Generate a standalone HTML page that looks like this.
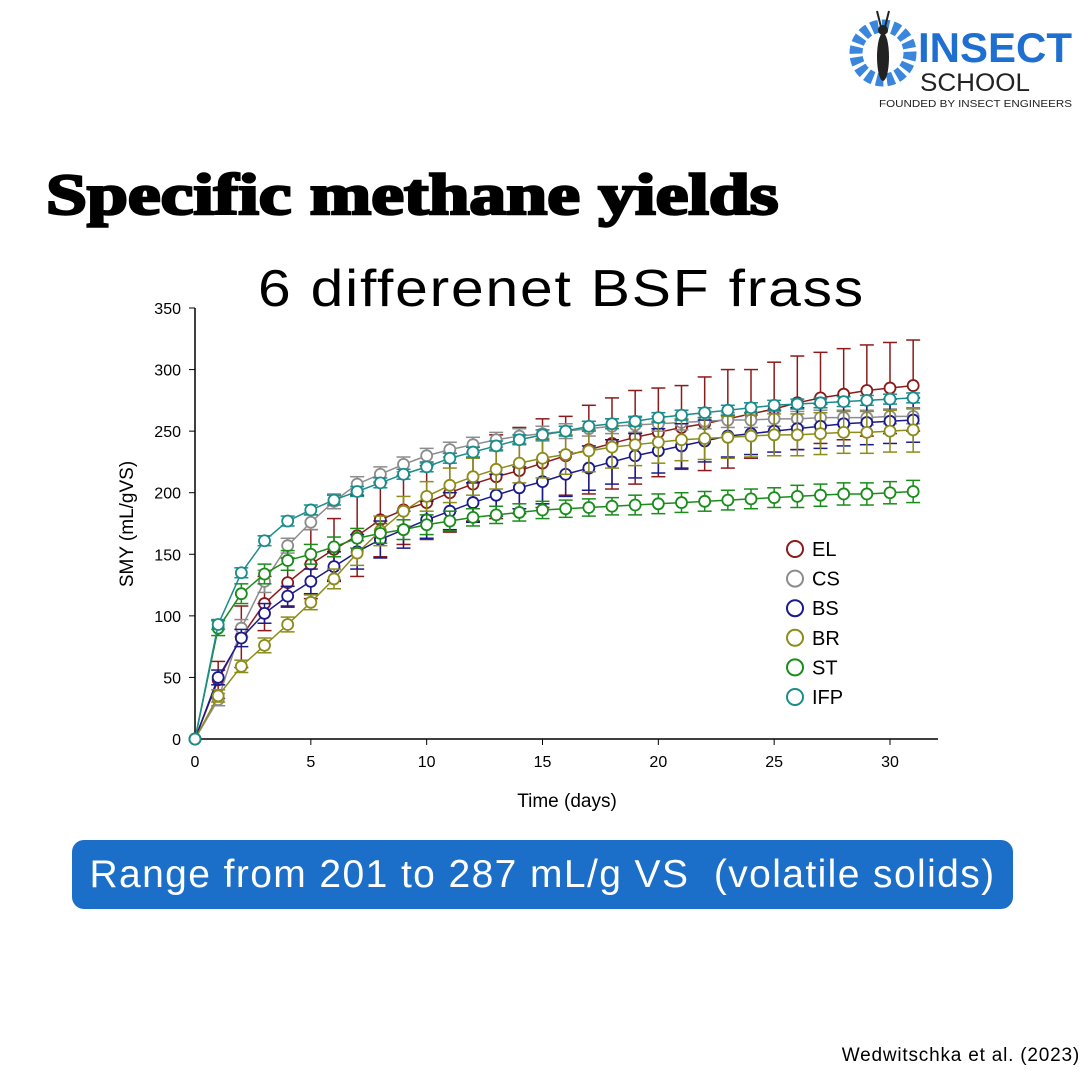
<!DOCTYPE html>
<html><head><meta charset="utf-8"><style>
body{margin:0;width:1085px;height:1080px;background:#fff;position:relative;overflow:hidden;font-family:"Liberation Sans",sans-serif}
.abs{position:absolute;margin:0}
</style></head><body>
<div class="abs" style="left:845px;top:5px;width:240px;height:110px">
<svg width="240" height="110">
<circle cx="38" cy="48" r="27" fill="none" stroke="#3a86dc" stroke-width="13" stroke-dasharray="7 3.5"/>
<ellipse cx="38" cy="52" rx="6" ry="24" fill="#222"/>
<circle cx="38" cy="25" r="5" fill="#222"/>
<line x1="36" y1="22" x2="32" y2="6" stroke="#222" stroke-width="2"/><line x1="40" y1="22" x2="44" y2="6" stroke="#222" stroke-width="2"/>
<text x="73" y="57" font-family="Liberation Sans" font-weight="bold" font-size="42" fill="#1f6fd0" textLength="154" lengthAdjust="spacingAndGlyphs">INSECT</text>
<text x="75" y="86" font-family="Liberation Sans" font-size="25" fill="#222" textLength="110" lengthAdjust="spacingAndGlyphs">SCHOOL</text>
<text x="34" y="102" font-family="Liberation Sans" font-size="10.5" fill="#222" textLength="193" lengthAdjust="spacingAndGlyphs">FOUNDED BY INSECT ENGINEERS</text>
</svg></div>
<h1 class="abs" style="left:46px;top:160px;font-family:'Liberation Serif',serif;font-weight:900;font-size:58px;-webkit-text-stroke:2.5px #000;line-height:70px;transform:scaleX(1.27);transform-origin:left top;white-space:nowrap">Specific methane yields</h1>
<div class="abs" style="left:258px;top:258px;font-size:52px;line-height:62px;letter-spacing:1.6px;transform:scaleX(1.13);transform-origin:left top;white-space:nowrap">6 differenet BSF frass</div>
<svg class="abs" style="left:0;top:290px" width="1085" height="540" id="chart"></svg>
<div class="abs" style="left:72px;top:840px;width:941px;height:69px;background:#1b6fc8;border-radius:12px;color:#fff;font-size:39px;line-height:69px;text-align:center;letter-spacing:1.4px;white-space:nowrap">Range from 201 to 287 mL/g VS&nbsp; (volatile solids)</div>
<div class="abs" style="right:5px;top:1045px;font-size:19px;letter-spacing:0.8px">Wedwitschka et al. (2023)</div>
<script>
const days=[0,1,2,3,4,5,6,7,8,9,10,11,12,13,14,15,16,17,18,19,20,21,22,23,24,25,26,27,28,29,30,31];
const seriesNames=["EL","CS","BS","BR","ST","IFP"];
const colors=["#8b1a1a","#8c8c8c","#1a1a8c","#8c8c1a","#1a8c1a","#1a8c8c"];
const EL=[0,48,83,110,127,142,154,165,178,186,192,200,207,213,218,224,230,235,240,245,249,253,256,260,264,268,273,277,280,283,285,287];
const CS=[0,32,90,128,157,176,193,207,215,223,230,235,239,243,246,248,250,252,254,255,256,257,258,259,259,260,260,261,261,261,262,262];
const BS=[0,50,82,102,116,128,140,152,162,170,178,185,192,198,204,209,215,220,225,230,234,238,242,246,248,250,252,254,256,257,258,259];
const BR=[0,35,59,76,93,111,130,151,169,185,197,206,213,219,224,228,231,234,237,239,241,243,244,245,246,247,247,248,249,249,250,251];
const ST=[0,90,118,134,145,150,156,163,167,170,174,177,180,182,184,186,187,188,189,190,191,192,193,194,195,196,197,198,199,199,200,201];
const IFP=[0,93,135,161,177,186,194,201,208,215,221,228,233,238,243,247,250,254,256,258,261,263,265,267,269,271,272,273,274,275,276,277];
const errEL=[0,15,25,22,20,28,25,33,30,28,30,32,30,34,35,36,32,36,37,38,36,34,38,40,36,38,38,37,37,37,37,37];
const errCS=[0,5,7,9,6,6,6,6,6,6,6,6,6,6,6,6,6,6,6,6,6,6,6,6,6,6,6,6,6,6,6,6];
const errBS=[0,6,7,8,8,10,12,14,15,15,15,15,16,17,17,18,18,18,18,18,18,18,17,17,17,17,17,18,18,18,18,18];
const errBR=[0,5,5,6,6,6,8,10,12,12,12,14,15,16,16,16,16,17,17,17,17,17,17,17,17,17,17,17,17,17,17,18];
const errST=[0,6,8,8,8,8,8,8,8,8,8,8,7,7,7,7,7,7,7,8,8,8,8,8,8,8,9,9,9,9,9,9];
const errIFP=[0,4,4,4,4,4,4,4,4,4,4,4,4,4,4,4,4,4,4,4,4,4,4,4,4,4,4,4,4,4,4,4];
const xTicks=[0,5,10,15,20,25,30];
const yTicks=[0,50,100,150,200,250,300,350];
const data=[EL,CS,BS,BR,ST,IFP], errs=[errEL,errCS,errBS,errBR,errST,errIFP];
const svg=document.getElementById('chart'),NS='http://www.w3.org/2000/svg',OY=290;
const X=d=>195+d*(695/30), Y=v=>739-OY-v*(431/350);
function mk(t,a,p){const e=document.createElementNS(NS,t);for(const k in a)e.setAttribute(k,a[k]);(p||svg).appendChild(e);return e;}
let ax=mk('line',{x1:195,y1:Y(0),x2:938,y2:Y(0),stroke:'#000','stroke-width':1.5});


ax=mk('line',{x1:195,y1:Y(0),x2:195,y2:Y(350),stroke:'#000','stroke-width':1.5});


xTicks.forEach(t=>{mk('line',{x1:X(t),x2:X(t),y1:Y(0),y2:Y(0)+6,stroke:'#000'});
const tx=mk('text',{x:X(t),y:Y(0)+28,'text-anchor':'middle','font-size':16});tx.textContent=t;

});
yTicks.forEach(t=>{mk('line',{x1:189,x2:195,y1:Y(t),y2:Y(t),stroke:'#000'});
const tx=mk('text',{x:181,y:Y(t)+6,'text-anchor':'end','font-size':16});tx.textContent=t;

});
let t=mk('text',{x:567,y:517,'text-anchor':'middle','font-size':19});t.textContent='Time (days)';


t=mk('text',{x:0,y:0,'text-anchor':'middle','font-size':19,transform:`translate(133,${524-OY}) rotate(-90)`});t.textContent='SMY (mL/gVS)';


data.forEach((s,i)=>{const g=mk('g',{});


const c=colors[i];
s.forEach((v,d)=>{if(d==0)return;const e=errs[i][d];
mk('line',{x1:X(d),x2:X(d),y1:Y(v),y2:Y(v+e),stroke:c,'stroke-width':1.5},g);
mk('line',{x1:X(d)-7,x2:X(d)+7,y1:Y(v+e),y2:Y(v+e),stroke:c,'stroke-width':1.5},g);
mk('line',{x1:X(d),x2:X(d),y1:Y(v),y2:Y(v-e),stroke:c,'stroke-width':1.5},g);
mk('line',{x1:X(d)-7,x2:X(d)+7,y1:Y(v-e),y2:Y(v-e),stroke:c,'stroke-width':1.5},g);});
mk('polyline',{points:s.map((v,d)=>X(d)+','+Y(v)).join(' '),fill:'none',stroke:c,'stroke-width':1.5},g);
s.forEach((v,d)=>{const p=mk('circle',{cx:X(d),cy:Y(v),r:5.5,fill:'#fff',stroke:c,'stroke-width':1.8},g);

});
const ly=549+i*29.6-OY;
const lg=mk('g',{});


mk('circle',{cx:795,cy:ly,r:8,fill:'#fff',stroke:c,'stroke-width':2},lg);
const lt=mk('text',{x:812,y:ly+7,'font-size':20},lg);lt.textContent=seriesNames[i];});
</script>
</body></html>
